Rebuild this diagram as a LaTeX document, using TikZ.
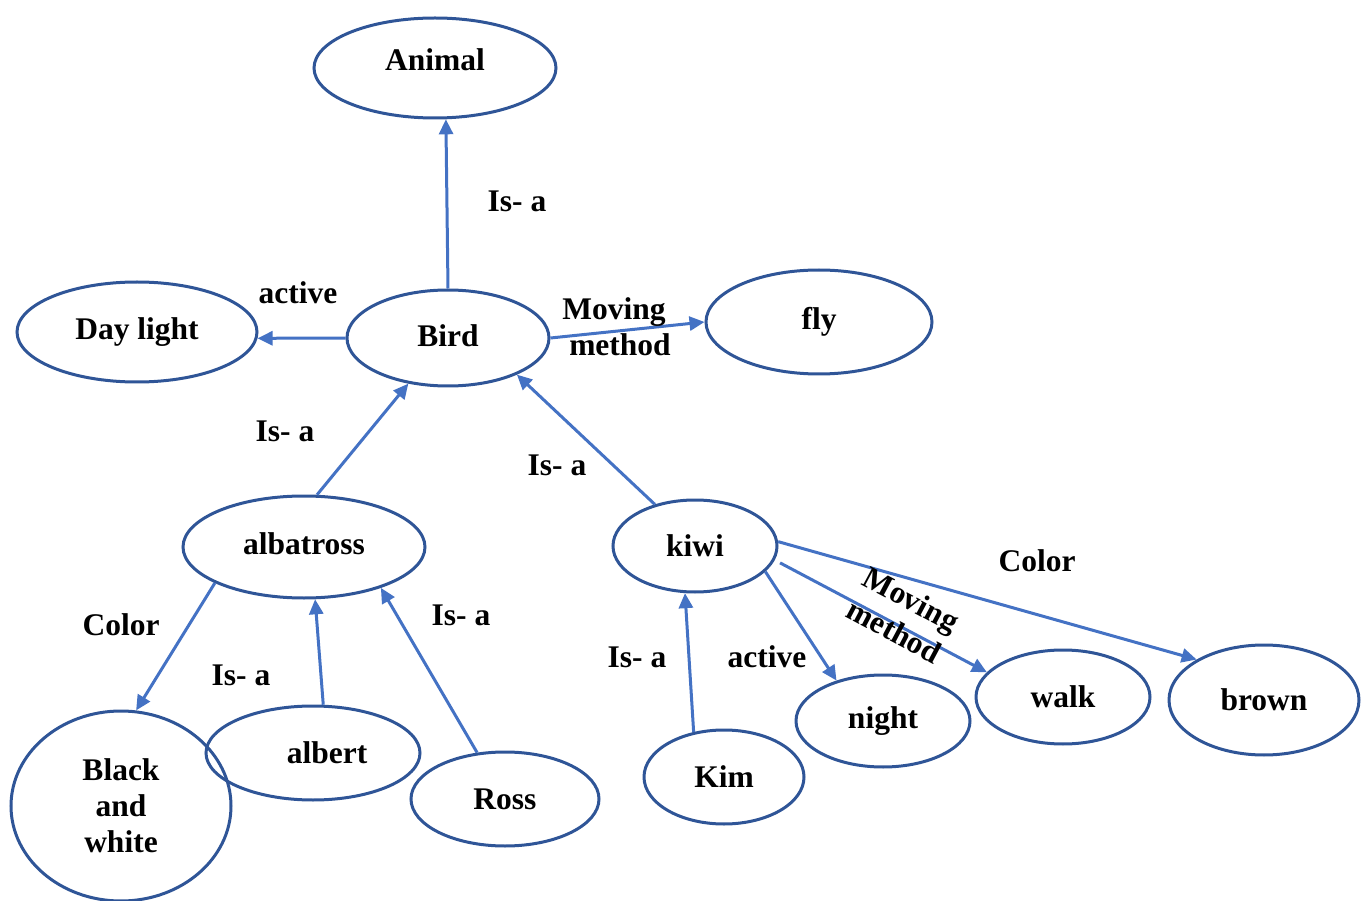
\documentclass[tikz,border=0pt]{standalone}
\usepackage{fontspec}
\setmainfont{Liberation Serif}
\usetikzlibrary{shapes.geometric,arrows.meta}
\definecolor{nodeblue}{HTML}{2F5597}
\definecolor{edgeblue}{HTML}{4472C4}
\begin{document}
\begin{tikzpicture}[x=1pt,y=-1pt,
  concept/.style={ellipse,draw=nodeblue,line width=3pt,inner sep=0pt,
    font=\fontsize{31.5}{36}\selectfont\bfseries,align=center},
  rel/.style={draw=edgeblue,line width=3pt,
    -{Triangle[length=15pt,width=14pt]}},
  tag/.style={font=\fontsize{31.5}{36}\selectfont\bfseries,align=center,inner sep=0pt}]
\path[use as bounding box] (0,0) rectangle (1361,901);

% concepts
\node[concept,minimum width=242pt,minimum height=100pt] (animal) at (435,68) {\raisebox{16pt}{Animal}};
\node[concept,minimum width=240pt,minimum height=100pt] (day) at (137,332) {Day light};
\node[concept,minimum width=202pt,minimum height=96pt] (bird) at (448,338) {\raisebox{4pt}{Bird}};
\node[concept,minimum width=226pt,minimum height=104pt] (fly) at (819,322) {fly};
\node[concept,minimum width=242pt,minimum height=102pt] (alba) at (304,547) {\raisebox{6pt}{albatross}};
\node[concept,minimum width=164pt,minimum height=92pt] (kiwi) at (695,546) {kiwi};
\node[concept,minimum width=220pt,minimum height=190pt,text depth=0pt] (bw) at (121,806) {Black\\and\\white};
\node[concept,minimum width=214pt,minimum height=94pt] (albert) at (313,753) {\hspace*{28pt}albert};
\node[concept,minimum width=188pt,minimum height=94pt] (ross) at (505,799) {Ross};
\node[concept,minimum width=160pt,minimum height=94pt] (kim) at (724,777) {Kim};
\node[concept,minimum width=174pt,minimum height=92pt] (night) at (883,721) {night};
\node[concept,minimum width=174pt,minimum height=94pt] (walk) at (1063,697) {walk};
\node[concept,minimum width=190pt,minimum height=110pt] (brown) at (1264,700) {brown};

% relations
\draw[rel] (bird.90) -- (animal.-78);
\draw[rel] (bird.180) -- (day.-3);
\draw[rel] (bird.0) -- (fly.180);
\draw[rel] (alba.76) -- (bird.-131);
\draw[rel] (kiwi.134) -- (bird.-28);
\draw[rel] (alba.-158) -- (bw.81);
\draw[rel] (albert.78) -- (alba.-78);
\draw[rel] (ross.121) -- (alba.-28);
\draw[rel] (kim.124) -- (kiwi.-102);
\draw[rel] (kiwi.-20) -- (night.139);
\draw[rel,shorten <=6pt] (kiwi.-10) -- (walk.162);
\draw[rel] (kiwi.3) -- (brown.149);

% relation labels
\node[tag] (l1) at (517,201) {Is- a};
\node[tag] (l2) at (298,293) {active};
\node[tag] (l3) at (614,327) {Moving\\\hspace*{12pt}method};
\node[tag] (l4) at (285,431) {Is- a};
\node[tag] (l5) at (557,465) {Is- a};
\node[tag] (l6) at (121,625) {Color};
\node[tag] (l7) at (241,675) {Is- a};
\node[tag] (l8) at (461,615) {Is- a};
\node[tag] (l9) at (637,657) {Is- a};
\node[tag] (l10) at (767,657) {active};
\node[tag,rotate=-28] (l11) at (903,615) {Moving\\method};
\node[tag] (l12) at (1037,561) {Color};
\end{tikzpicture}
\end{document}
